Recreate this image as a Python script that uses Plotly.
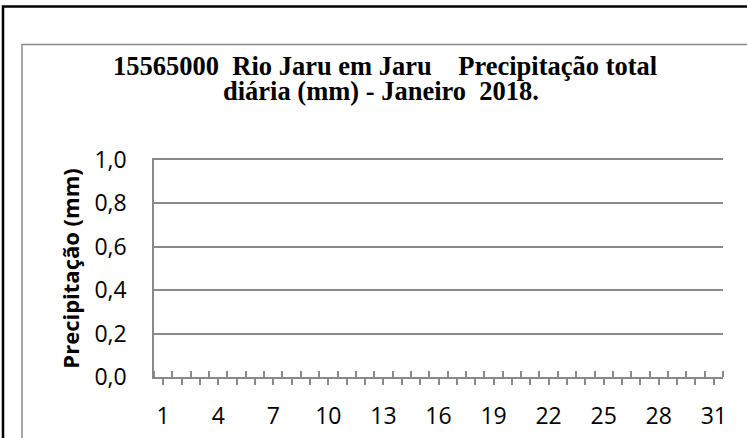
import plotly.graph_objects as go

days = [1, 2, 3, 4, 5, 6, 7, 8, 9, 10, 11, 12, 13, 14, 15, 16,
        17, 18, 19, 20, 21, 22, 23, 24, 25, 26, 27, 28, 29, 30, 31]
precip_mm = [0, 0, 0, 0, 0, 0, 0, 0, 0, 0, 0, 0, 0, 0, 0, 0,
             0, 0, 0, 0, 0, 0, 0, 0, 0, 0, 0, 0, 0, 0, 0]
x_tick_labels = ["1", "", "", "4", "", "", "7", "", "", "10", "", "", "13", "", "", "16",
                 "", "", "19", "", "", "22", "", "", "25", "", "", "28", "", "", "31"]
y_ticks = [0.0, 0.2, 0.4, 0.6, 0.8, 1.0]

title_line1 = "15565000\u00a0\u00a0Rio Jaru em Jaru\u00a0\u00a0\u00a0\u00a0Precipitação total"
title_line2 = "diária (mm) - Janeiro\u00a0\u00a02018."
y_title = "Precipitação (mm)"

W, H = 747, 438
L, R, T, B = 154, 24, 160, 61
pw, ph = W - L - R, H - T - B

def px_x(px):
    return (px - L) / pw

def px_y(py):
    return (H - B - py) / ph

GRAY = "#898989"
TICKFONT = dict(family="Open Sans", size=23, color="#000000")

fig = go.Figure()
fig.add_trace(go.Bar(x=days, y=precip_mm, marker=dict(color="#4F81BD", line=dict(width=0)),
                     showlegend=False))

fig.update_layout(
    width=W, height=H,
    margin=dict(l=L, r=R, t=T, b=B, autoexpand=False),
    paper_bgcolor="white", plot_bgcolor="white",
    separators=",.",
    showlegend=False,
    xaxis=dict(
        range=[days[0] - 0.5, days[-1] + 0.5],
        tickmode="array", tickvals=days, ticktext=x_tick_labels,
        ticks="outside", ticklen=6, tickwidth=1.5, tickcolor=GRAY,
        showline=True, linecolor=GRAY, linewidth=1.5, mirror=True,
        showgrid=False, zeroline=False, automargin=False,
        tickfont=TICKFONT, ticklabelstandoff=12,
        minor=dict(tickmode="array", tickvals=[d - 0.5 for d in days] + [days[-1] + 0.5],
                   ticks="inside", ticklen=6, tickwidth=1.5, tickcolor=GRAY, showgrid=False),
        fixedrange=True,
    ),
    yaxis=dict(
        range=[0, 1], tickmode="array", tickvals=y_ticks, tickformat=".1f",
        showline=True, linecolor=GRAY, linewidth=1.5,
        showgrid=True, gridcolor=GRAY, gridwidth=1.5,
        zeroline=False, ticks="", automargin=False,
        tickfont=TICKFONT, ticklabelstandoff=21,
        title=dict(text="<b>" + y_title + "</b>", font=dict(family="Open Sans", size=22, color="#000000"),
                   standoff=9),
        fixedrange=True,
    ),
    annotations=[
        dict(text="<b>" + title_line1 + "</b>", xref="paper", yref="paper",
             x=px_x(385), y=px_y(66), xanchor="center", yanchor="middle", showarrow=False,
             font=dict(family="Liberation Serif", size=26.5, color="#000000")),
        dict(text="<b>" + title_line2 + "</b>", xref="paper", yref="paper",
             x=px_x(381), y=px_y(91), xanchor="center", yanchor="middle", showarrow=False,
             font=dict(family="Liberation Serif", size=26.5, color="#000000")),
    ],
    shapes=[
        dict(type="rect", xref="paper", yref="paper", layer="below",
             x0=px_x(3), x1=px_x(780), y0=px_y(6.5), y1=px_y(470),
             line=dict(color="#000000", width=2.5), fillcolor="rgba(0,0,0,0)"),
        dict(type="rect", xref="paper", yref="paper", layer="below",
             x0=px_x(22), x1=px_x(770), y0=px_y(44.5), y1=px_y(460),
             line=dict(color=GRAY, width=1.5), fillcolor="rgba(0,0,0,0)"),
    ],
)

fig.write_html("out.html", config={"displayModeBar": False},
               post_script="document.body.style.margin='0';document.body.style.overflow='hidden';")
